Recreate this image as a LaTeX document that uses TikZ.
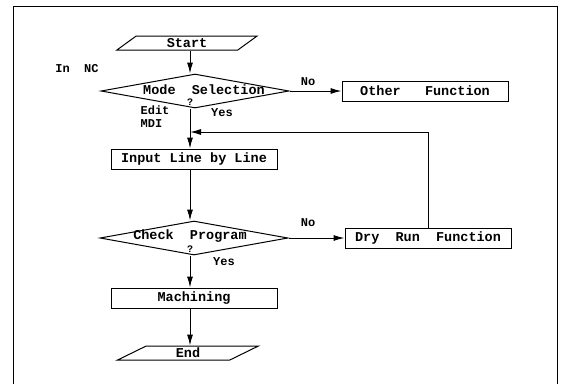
\documentclass[tikz,border=0pt]{standalone}
\usepackage{fontspec}
\setmainfont{Liberation Mono}
\usepackage{tikz}
\usetikzlibrary{shapes.geometric, arrows.meta, positioning, calc}
\tikzset{
  startstop/.style={
    trapezium, trapezium left angle=50, trapezium right angle=130,
    trapezium stretches=true,
    minimum width=141pt, minimum height=14pt, inner sep=0pt,
    text centered, draw, line width=1pt,
  },
  process/.style={
    rectangle,
    minimum width=166pt, minimum height=20pt, inner sep=0pt,
    text centered, draw, line width=1pt,
  },
  decision/.style={
    diamond, aspect=5.5,
    minimum width=188pt, minimum height=34pt, inner sep=0pt,
    draw, line width=1pt,
  },
  arrow/.style={-{Latex[length=11pt,width=6pt]}, line width=1pt},
  note/.style={font=\bfseries\fontsize{12}{13}\selectfont},
  qmark/.style={font=\bfseries\fontsize{10}{10}\selectfont, inner sep=0pt},
}

\begin{document}
\begin{tikzpicture}[x=1pt, y=1pt, every node/.style={font=\bfseries\fontsize{13.5}{15}\selectfont}]

  \useasboundingbox (0,0) rectangle (561,-384);

  % frame
  \draw[line width=0.8pt] (13,-384) -- (13,-6) -- (557,-6) -- (557,-384);

  % main column
  \coordinate (spine) at (190,0);
  \node[startstop] (start) at (187,-43) {Start};
  \node[decision, below=23pt of start, xshift=8pt,
        label={[xshift=9pt, yshift=1pt]center:Mode~~Selection}] (mode) {};
  \node[process, below=40pt of mode, xshift=-1pt] (input) {Input Line by Line};
  \node[decision, below=51pt of input,
        label={[xshift=-4pt, yshift=2pt]center:Check~~Program}] (check) {};
  \node[process, below=32pt of check] (machining) {Machining};
  \node[startstop, below=37pt of machining, xshift=-6pt] (end) {End};

  % side boxes
  \node[process, right=52pt of mode] (other) {Other~~~Function};
  \node[process, right=56pt of check] (dryrun) {Dry~~Run~~Function};

  % question marks
  \node[qmark] at ($(mode.south -| spine)+(0,6pt)$) (q1) {?};
  \node[qmark] at ($(check.south -| spine)+(0,6pt)$) (q2) {?};

  % labels
  \node[note] at (77,-69) (innc) {In~~NC};
  \node[note, align=left] at (155,-117) (editmdi) {Edit\\MDI};
  \node[note] at (222,-113) (yes1) {Yes};
  \node[note] at (308,-82) (no1) {No};
  \node[note] at (308,-223) (no2) {No};
  \node[note] at (224,-262) (yes2) {Yes};

  % loop junction
  \coordinate (join) at ($(spine |- 0,-132)$);

  % Arrows
  \draw[arrow] (start.south -| spine) -- (mode.north -| spine);
  \draw[arrow] (mode.east) -- (other.west);
  \draw[arrow] (mode.south -| spine) -- (input.north -| spine);
  \draw[arrow] (dryrun.north) |- (join);
  \draw[arrow] (input.south -| spine) -- (check.north -| spine);
  \draw[arrow] (check.east) -- (dryrun.west);
  \draw[arrow] (check.south -| spine) -- (machining.north -| spine);
  \draw[arrow] (machining.south -| spine) -- (end.north -| spine);

\end{tikzpicture}
\end{document}
